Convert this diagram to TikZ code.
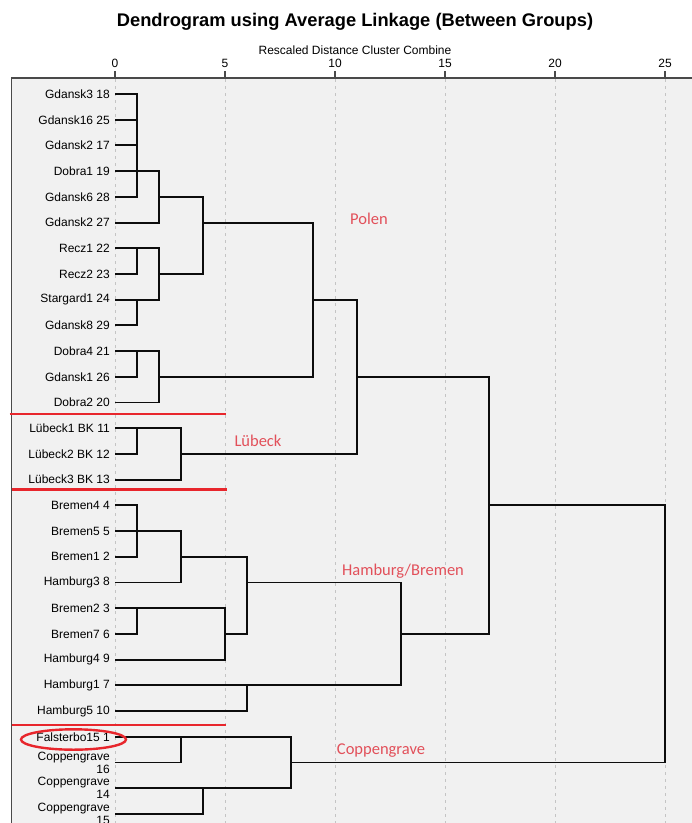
\documentclass[tikz,border=0pt]{standalone}
\usepackage{fontspec}
\setmainfont{Liberation Sans}
\newfontfamily\calibri{Carlito}
\definecolor{panelgray}{HTML}{F1F1F1}
\definecolor{guidegray}{HTML}{C4C4C4}
\definecolor{framegray}{HTML}{4A4A4A}
\definecolor{markred}{HTML}{E8262C}
\definecolor{labelred}{HTML}{E2505A}
\tikzset{
  den/.style={line width=1.9pt, draw=black!95},
  leaf/.style={anchor=east, xshift=-5pt, inner sep=0pt, align=right,
    font=\fontsize{12}{12.8}\selectfont},
  guide/.style={guidegray, line width=0.8pt, dash pattern=on 3pt off 4pt},
  redbar/.style={markred, line width=2.9pt},
  grp/.style={labelred, font=\calibri\fontsize{16.5}{18}\selectfont}
}
\begin{document}
\begin{tikzpicture}[x=1pt, y=-1pt]
\useasboundingbox (0,0) rectangle (692,823);
\clip (0,0) rectangle (692,823);

% panel and axis
\fill[panelgray] (11.5,78) rectangle (700,830);
\foreach \d in {0,5,...,25}
  \draw[guide] ({115+22*\d},79) -- ({115+22*\d},830);
\draw[framegray, line width=1.2pt] (11.5,830) -- (11.5,78) -- (700,78);
\foreach \d in {0,5,...,25} {
  \draw[framegray, line width=1.3pt] ({115+22*\d},71) -- ({115+22*\d},78);
  \node[font=\fontsize{12}{14}\selectfont] (tick\d) at ({115+22*\d},63) {\d};
}
\node[font=\bfseries\fontsize{18.3}{20}\selectfont] (title) at (355,22)
  {Dendrogram using Average Linkage (Between Groups)};
\node[font=\fontsize{12}{14}\selectfont] (axis) at (355,50)
  {Rescaled Distance Cluster Combine};

\begin{scope}[shift={(115,94)}, x=22pt, y=-25.71pt]
\foreach \lab [count=\i from 0] in {Gdansk3 18, Gdansk16 25, Gdansk2 17,
    Dobra1 19, Gdansk6 28, Gdansk2 27, Recz1 22, Recz2 23, Stargard1 24,
    Gdansk8 29, Dobra4 21, Gdansk1 26, Dobra2 20, Lübeck1 BK 11,
    Lübeck2 BK 12, Lübeck3 BK 13, Bremen4 4, Bremen5 5, Bremen1 2,
    Hamburg3 8, Bremen2 3, Bremen7 6, Hamburg4 9, Hamburg1 7, Hamburg5 10,
    Falsterbo15 1, {Coppengrave\\16}, {Coppengrave\\14}, {Coppengrave\\15}} {
  \coordinate (t\i) at (0,\i);
  \node[leaf] (n\i) at (t\i) {\lab};
}

% Polen
\draw[den] (t0) -| (1,4) -- (t4);
\draw[den] (t1) -- (1,1) (t2) -- (1,2);
\draw[den] (t3) -| (2,5) -- (t5);
\draw[den] (2,4) -| (4,7) -- (2,7);
\draw[den] (t6) -| (2,8) -- (t8);
\draw[den] (t7) -| (1,6);
\draw[den] (t9) -| (1,8);
\draw[den] (4,5) -| (9,11) -- (2,11);
\draw[den] (t10) -| (2,12) -- (t12);
\draw[den] (t11) -| (1,10);
\draw[den] (9,8) -| (11,14) -- (3,14);
% Luebeck
\draw[den] (t13) -| (3,15) -- (t15);
\draw[den] (t14) -| (1,13);
\draw[den] (11,11) -| (17,21) -- (13,21);
% Hamburg/Bremen
\draw[den] (t16) -| (1,18) -- (t18);
\draw[den] (t17) -| (3,19) -- (t19);
\draw[den] (3,18) -| (6,21) -- (5,21);
\draw[den] (t20) -| (5,22) -- (t22);
\draw[den] (t21) -| (1,20);
\draw[den] (6,19) -| (13,23) -- (t23);
\draw[den] (t24) -| (6,23);
\draw[den] (17,16) -| (25,26) -- (8,26);
% Coppengrave
\draw[den] (t25) -| (8,27) -- (t27);
\draw[den] (t26) -| (3,25);
\draw[den] (t28) -| (4,27);
\end{scope}

% red marks
\draw[redbar] (9.5,414) -- (226,414);
\draw[redbar] (11.5,489.5) -- (227,489.5);
\draw[redbar] (11.5,725) -- (226,725);
\draw[markred, line width=2.4pt] (73.5,739.5) ellipse [x radius=52.5, y radius=10.2];

\node[grp] (polen) at (369,219) {Polen};
\node[grp] (luebeck) at (258,441) {Lübeck};
\node[grp] (hambre) at (403,571) {Hamburg/Bremen};
\node[grp] (coppen) at (381,751) {Coppengrave};
\end{tikzpicture}
\end{document}
